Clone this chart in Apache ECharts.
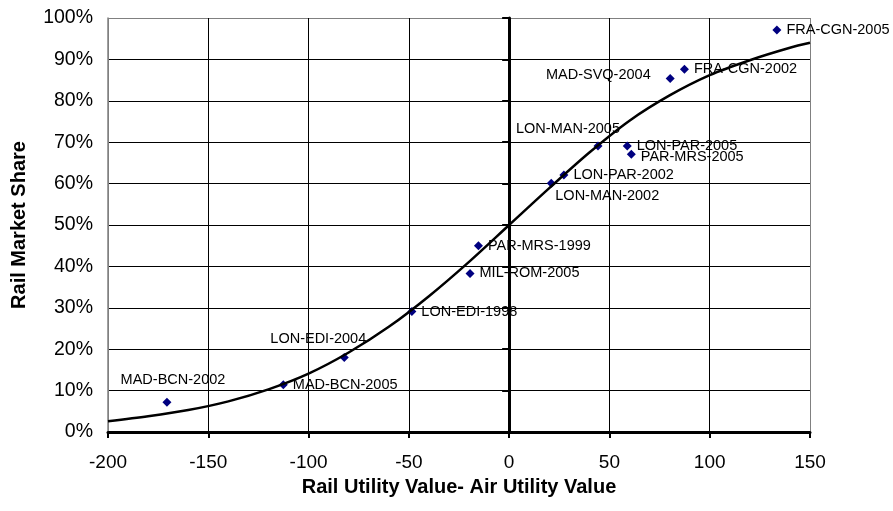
<!doctype html>
<html>
<head>
<meta charset="utf-8">
<script src="https://cdn.jsdelivr.net/npm/echarts@6.0.0/dist/echarts.min.js"></script>
<style>
* { margin: 0; padding: 0; }
html, body { background: #fff; }
#chart { width: 893px; height: 511px; }
</style>
</head>
<body>
<div id="chart"></div>
<script>
// routes (scatter points)
var routes = ['MAD-BCN-2002', 'MAD-BCN-2005', 'LON-EDI-2004', 'LON-EDI-1998', 'MIL-ROM-2005',
  'PAR-MRS-1999', 'LON-MAN-2002', 'LON-PAR-2002', 'LON-MAN-2005', 'LON-PAR-2005',
  'PAR-MRS-2005', 'MAD-SVQ-2004', 'FRA-CGN-2002', 'FRA-CGN-2005'];
var utilityDiff = [-170.6, -112.6, -82.2, -48.5, -19.5, -15.3, 21.0, 27.3, 44.3, 58.9, 60.9, 80.3, 87.4, 133.5];
var railShare = [7.2, 11.4, 18.0, 29.1, 38.3, 45.0, 60.1, 62.1, 69.1, 69.1, 67.1, 85.4, 87.6, 97.1];

// fitted curve
var curveX = [-200, -180, -160, -140, -120, -100, -80, -60, -40, -20, 0, 20, 40, 60, 80, 100, 120, 140, 150];
var curveY = [2.6, 3.8, 5.3, 7.4, 10.3, 14.1, 19.2, 25.4, 32.8, 41.1, 50, 58.9, 67.5, 75.2, 81.3, 86.2, 89.8, 92.8, 94.0];

var font = 'Liberation Sans, Arial, sans-serif';

// where each label sits next to its point (default: right)
var labelPlace = {
  'MAD-BCN-2002': { position: 'top', distance: 10, offset: [6, 0] },
  'LON-EDI-2004': { position: 'top', distance: 6, offset: [-26, 0] },
  'LON-MAN-2002': { position: 'bottom', offset: [56, -4] },
  'LON-MAN-2005': { position: 'top', offset: [-30, 0] },
  'PAR-MRS-2005': { position: 'right', offset: [0, 3] },
  'MAD-SVQ-2004': { position: 'left', distance: 15, offset: [0, -3] }
};

var points = routes.map(function (r, i) {
  var item = { name: r, value: [utilityDiff[i], railShare[i]] };
  if (labelPlace[r]) item.label = labelPlace[r];
  return item;
});
var curve = curveX.map(function (x, i) { return [x, curveY[i]]; });

var myChart = echarts.init(document.getElementById('chart'));
var option = {
  animation: false,
  grid: { left: 108, right: 83, top: 18, bottom: 79 },
  xAxis: {
    type: 'value',
    min: -200, max: 150, interval: 50,
    name: 'Rail Utility Value- Air Utility Value',
    nameLocation: 'middle',
    nameGap: 45,
    nameTextStyle: { fontFamily: font, fontSize: 20, fontWeight: 'bold', color: '#000' },
    axisLine: { onZero: false, lineStyle: { color: '#000', width: 3 } },
    axisTick: { length: 6, lineStyle: { color: '#000', width: 2 } },
    axisLabel: { fontFamily: font, fontSize: 19, color: '#000', margin: 21 },
    splitLine: { lineStyle: { color: ['#808080', '#000', '#000', '#000', '#000', '#000', '#000', '#808080'], width: 1 } }
  },
  yAxis: [{
    type: 'value',
    position: 'left',
    min: 0, max: 100, interval: 10,
    name: 'Rail Market Share',
    nameLocation: 'middle',
    nameGap: 79,
    nameTextStyle: { fontFamily: font, fontSize: 20, fontWeight: 'bold', color: '#000' },
    axisLine: { show: true, onZero: false, lineStyle: { color: '#808080', width: 1.5 } },
    axisTick: { show: false },
    axisLabel: { fontFamily: font, fontSize: 19.5, color: '#000', margin: 15, formatter: '{value}%' },
    splitLine: { lineStyle: { color: ['#000', '#000', '#000', '#000', '#000', '#000', '#000', '#000', '#000', '#000', '#808080'], width: 1 } }
  }, {
    // the thick axis line through x = 0
    type: 'value',
    position: 'left',
    min: 0, max: 100, interval: 10,
    axisLine: { show: true, onZero: true, onZeroAxisIndex: 0, lineStyle: { color: '#000', width: 3 } },
    axisTick: { show: true, length: 7, lineStyle: { color: '#000', width: 2 } },
    axisLabel: { show: false },
    splitLine: { show: false }
  }],
  series: [
    {
      type: 'scatter',
      symbol: 'diamond',
      symbolSize: 9,
      itemStyle: { color: '#000080', opacity: 1 },
      label: {
        show: true,
        position: 'right',
        distance: 5,
        formatter: '{b}',
        fontFamily: font,
        fontSize: 14.5,
        color: '#000'
      },
      data: points
    },
    {
      type: 'line',
      showSymbol: false,
      smooth: 0.3,
      lineStyle: { color: '#000', width: 2.5 },
      data: curve
    }
  ]
};
myChart.setOption(option);
</script>
</body>
</html>
